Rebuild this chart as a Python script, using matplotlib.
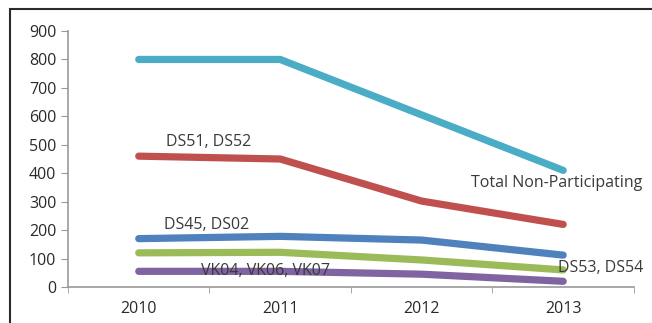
import matplotlib.pyplot as plt
from matplotlib.patches import Rectangle

years = ["2010", "2011", "2012", "2013"]
total_np = [800, 800, 605, 410]
ds51_ds52 = [460, 450, 302, 220]
ds45_ds02 = [170, 178, 165, 112]
ds53_ds54 = [120, 122, 95, 60]
vk_group = [55, 55, 45, 20]

plt.rcParams['font.family'] = ['Open Sans', 'DejaVu Sans']

fig = plt.figure(figsize=(6.52, 3.23), dpi=100)
ax = fig.add_axes([0.1043, 0.1115, 0.868, 0.7925])

# outer frame (left and top edges visible)
fig.patches.append(Rectangle((10 / 652, -0.1), 1.2, 1 - 9 / 323 + 0.1,
                             transform=fig.transFigure, fill=False,
                             edgecolor='#2b2b2b', linewidth=1.5))

x = range(len(years))
series = [
    (total_np, '#4BACC6'),
    (ds51_ds52, '#C0504D'),
    (ds45_ds02, '#4F81BD'),
    (ds53_ds54, '#9BBB59'),
    (vk_group, '#8064A2'),
]
for vals, col in series:
    ax.plot(x, vals, color=col, linewidth=5.2, solid_capstyle='round',
            solid_joinstyle='round')

txt = dict(fontsize=11.5, color='#3a3a3a', va='center', ha='left')
ax.text(0.19, 510, "DS51, DS52", **txt)
ax.text(0.18, 218, "DS45, DS02", **txt)
ax.text(0.44, 56, "VK04, VK06, VK07", **txt)
ax.text(2.35, 366, "Total Non-Participating", **txt)
ax.text(2.96, 67, "DS53, DS54", **txt)

ax.set_xlim(-0.5, 3.5)
ax.set_ylim(0, 900)
ax.set_yticks(range(0, 901, 100))
ax.set_xticks(list(x))
ax.set_xticklabels(years)
ax.set_xticks([-0.5, 0.5, 1.5, 2.5, 3.5], minor=True)
ax.tick_params(axis='x', which='major', length=0, pad=10, labelsize=11.5,
               colors='#2a2a2a')
ax.tick_params(axis='x', which='minor', length=4, color='#999999')
ax.tick_params(axis='y', length=5, color='#999999', labelsize=11.5,
               labelcolor='#2a2a2a', pad=3.5)
for s in ['top', 'right']:
    ax.spines[s].set_visible(False)
for s in ['left', 'bottom']:
    ax.spines[s].set_color('#999999')
    ax.spines[s].set_linewidth(1.2)

fig.savefig('out.png', dpi=100)
